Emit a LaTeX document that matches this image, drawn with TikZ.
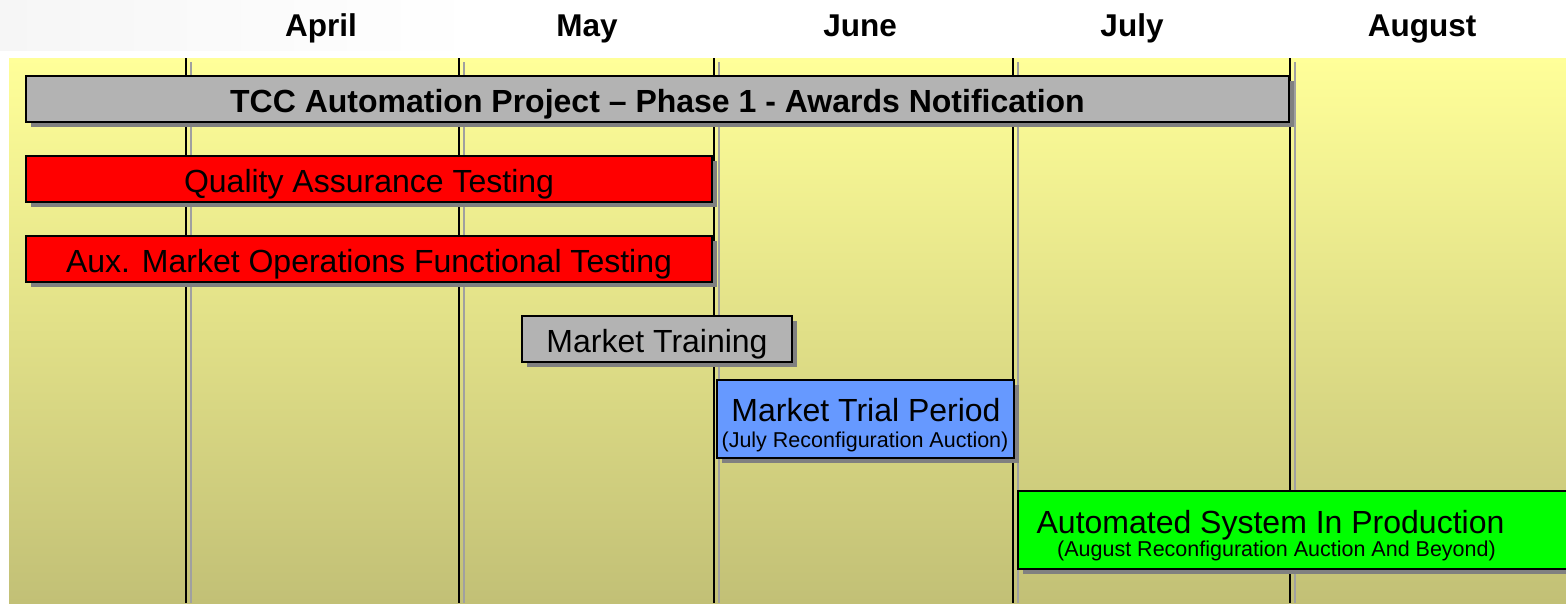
\documentclass[tikz,border=0pt]{standalone}
\usepackage{fontspec}
\setmainfont{Liberation Sans}
\usetikzlibrary{shadows}
\definecolor{ytop}{RGB}{255,255,153}
\definecolor{ybot}{RGB}{194,192,118}
\definecolor{bargrey}{RGB}{179,179,179}
\definecolor{shadowgrey}{RGB}{128,128,128}
\definecolor{linegrey}{RGB}{160,160,160}
\definecolor{trialblue}{RGB}{102,153,255}
\definecolor{prodgreen}{RGB}{0,255,0}
\definecolor{faint}{RGB}{246,246,246}
\tikzset{
  bar/.style={draw=black, line width=2pt, inner sep=0pt, anchor=north west,
    minimum height=46pt, text height=27pt, text depth=1pt,
    font=\fontsize{32}{36}\selectfont,
    drop shadow={shadow xshift=5pt, shadow yshift=-5pt, fill=shadowgrey, opacity=1}},
  month/.style={anchor=base, font=\bfseries\fontsize{31.5}{36}\selectfont},
  bigtext/.style={anchor=base, inner sep=0pt, font=\fontsize{32}{36}\selectfont},
  smalltext/.style={anchor=base, inner sep=0pt, font=\fontsize{21.5}{24}\selectfont},
  gridline/.style={black, line width=2pt},
  gridshade/.style={linegrey, line width=2pt},
}
\begin{document}
\begin{tikzpicture}[x=1pt,y=-1pt]
\useasboundingbox (0,0) rectangle (1566,603);
\begin{scope}
\clip (0,0) rectangle (1566,603);
\fill[white] (0,0) rectangle (1566,603);
\shade[left color=faint, right color=white] (0,0) rectangle (480,50);
\shade[top color=ytop, bottom color=ybot] (9,58) rectangle (1566,603);
% month grid lines
\foreach \x in {186,459,714,1013,1290}{
  \draw[gridshade] (\x+5,62) -- (\x+5,603);
  \draw[gridline] (\x,58) -- (\x,603);
}
% months
\node[month] (apr) at (321,36) {April};
\node[month] (may) at (587,36) {May};
\node[month] (jun) at (860,36) {June};
\node[month] (jul) at (1132,36) {July};
\node[month] (aug) at (1422,36) {August};
% bars
\node[bar, fill=bargrey, minimum width=1263pt, font=\bfseries\fontsize{32}{36}\selectfont] (tcc) at (25,75) {TCC Automation Project -- Phase 1 - Awards Notification};
\node[bar, fill=red, minimum width=686pt] (qa) at (25,155) {Quality Assurance Testing};
\node[bar, fill=red, minimum width=686pt] (aux) at (25,235) {Aux. Market Operations Functional Testing};
\node[bar, fill=bargrey, minimum width=270pt] (train) at (521,315) {Market Training};
\node[bar, fill=trialblue, minimum width=297pt, minimum height=78pt] (trial) at (716,379) {};
\node[bigtext] (trialmain) at (866,421) {Market Trial Period};
\node[smalltext] (trialsub) at (865,447) {(July Reconfiguration Auction)};
\node[bar, fill=prodgreen, minimum width=600pt, minimum height=78pt] (prod) at (1017,490) {};
\node[bigtext] (prodmain) at (1270.5,533) {Automated System In Production};
\node[smalltext] (prodsub) at (1276.5,556) {(August Reconfiguration Auction And Beyond)};
\end{scope}
\end{tikzpicture}
\end{document}
